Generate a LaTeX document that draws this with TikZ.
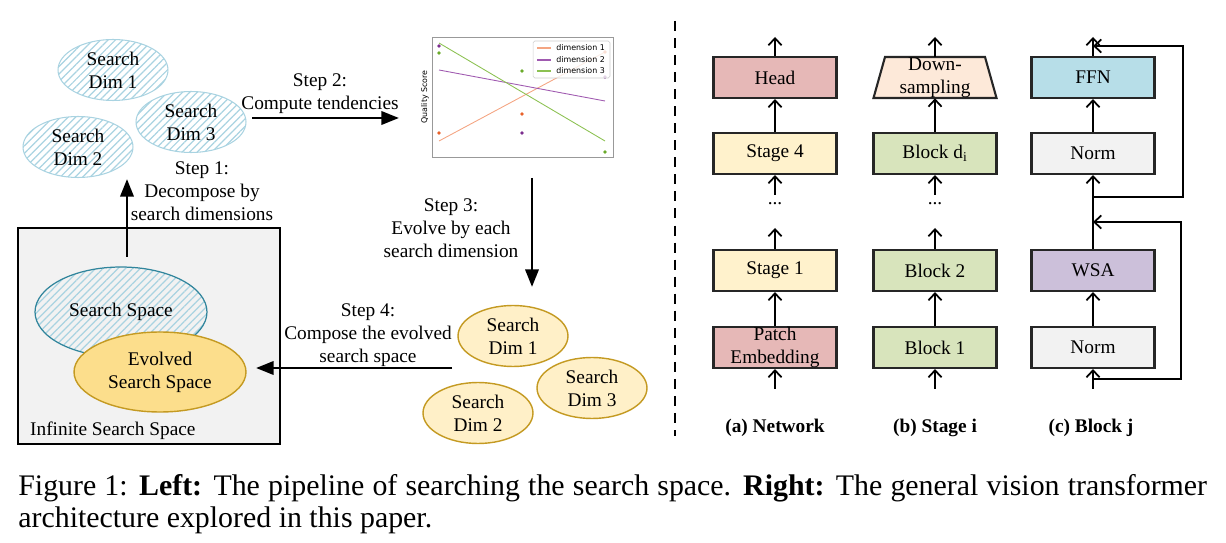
\documentclass[tikz,border=0pt]{standalone}
\usepackage{fontspec}
\setmainfont{Liberation Serif}
\newfontfamily\plotfont{DejaVu Sans}
\usepackage{tikz}
\usetikzlibrary{
  arrows.meta,        % Triangle and barb tips
  shapes.geometric,   % ellipse
  patterns.meta       % hatched search dimensions
}

\definecolor{hatchblue}{HTML}{A9D3E1}
\definecolor{tealline}{HTML}{31859C}
\definecolor{goldline}{HTML}{C49A22}
\definecolor{paleyellow}{HTML}{FFF0C8}
\definecolor{evolvedfill}{HTML}{FCDE8C}
\definecolor{spacegray}{HTML}{F2F2F2}
\definecolor{headred}{HTML}{E6B8B7}
\definecolor{stageyellow}{HTML}{FFF2CC}
\definecolor{blockgreen}{HTML}{D8E4BC}
\definecolor{downpeach}{HTML}{FDE9D9}
\definecolor{ffnblue}{HTML}{B7DEE8}
\definecolor{wsapurple}{HTML}{CCC0DA}
\definecolor{dimone}{HTML}{F4A582}
\definecolor{dimonedot}{HTML}{E8622A}
\definecolor{dimtwo}{HTML}{A05AB0}
\definecolor{dimtwodot}{HTML}{7B2D8E}
\definecolor{dimthree}{HTML}{8CC152}
\definecolor{dimthreedot}{HTML}{6AAA2A}

\tikzset{
  dimhatch/.style={ellipse, draw=hatchblue, line width=0.6pt,
    pattern={Lines[angle=45,distance=3pt,line width=0.7pt]}, pattern color=hatchblue,
    minimum width=2.2cm, minimum height=1.22cm, inner sep=0pt, align=center},
  dimgold/.style={ellipse, draw=goldline, fill=paleyellow, line width=0.8pt,
    minimum width=2.2cm, minimum height=1.22cm, inner sep=0pt, align=center},
  bigarrow/.style={line width=1.6pt, -{Triangle[length=10pt,width=7.5pt]}},
  netbox/.style={draw=black!85, line width=1.2pt, minimum width=2.46cm,
    minimum height=0.82cm, inner sep=0pt},
  flow/.style={line width=1pt, -{Straight Barb[length=4pt,width=7.5pt]}},
  plottext/.style={font=\plotfont\fontsize{4.5}{5}\selectfont}
}

\begin{document}
\begin{tikzpicture}[x=0.02cm, y=-0.02cm, font=\fontsize{11}{13.2}\selectfont]
  \useasboundingbox (0,0) rectangle (1226,543);

  % left: search pipeline
  \node[draw=black, line width=0.6pt, fill=spacegray, minimum width=5.24cm,
    minimum height=4.32cm, inner sep=0pt] (infinite) at (149,336) {};
  \node[anchor=west] (infinitetext) at (24,431) {Infinite Search Space};
  \node[ellipse, draw=tealline, line width=0.7pt,
    pattern={Lines[angle=45,distance=3pt,line width=0.7pt]}, pattern color=hatchblue,
    minimum width=3.44cm, minimum height=1.8cm, inner sep=0pt] (space) at (121,312) {};
  \node at (121,312) {Search Space};
  \node[ellipse, draw=goldline, fill=evolvedfill, line width=0.8pt, align=center,
    minimum width=3.44cm, minimum height=1.6cm, inner sep=0pt] (evolved) at (160,372)
    {Evolved\\Search Space};

  \node[dimhatch] (hdimone) at (113,70) {Search\\Dim 1};
  \node[dimhatch] (hdimtwo) at (78,147) {Search\\Dim 2};
  \node[dimhatch] (hdimthree) at (191,122) {Search\\Dim 3};

  \coordinate (stepone) at (127,257);
  \coordinate (steponeend) at (127,179);
  \draw[bigarrow] (stepone) -- (steponeend);
  \node[align=center] (steponetext) at (202,191) {Step 1:\\Decompose by\\search dimensions};

  \coordinate (steptwo) at (252,118);
  \coordinate (steptwoend) at (399,118);
  \draw[bigarrow] (steptwo) -- (steptwoend);
  \node[align=center] (steptwotext) at (320,94) {Step 2:\\Compute tendencies};

  % tendency plot
  \node[draw=gray!80, line width=0.5pt, minimum width=3.62cm, minimum height=2.4cm,
    inner sep=0pt] (plot) at (522.5,97) {};
  \node[plottext, rotate=90] (ylabel) at (425,97) {Quality Score};
  \draw[dimone, line width=0.5pt] (439,141) -- (605,52);
  \draw[dimtwo, line width=0.5pt] (439,70) -- (605,101);
  \draw[dimthree, line width=0.5pt] (439,43) -- (605,141);
  \fill[dimonedot] (439,133) circle (1.1pt) (522,114) circle (1.1pt) (605,52) circle (1.1pt);
  \fill[dimtwodot] (439,46) circle (1.1pt) (522,133) circle (1.1pt) (605,77) circle (1.1pt);
  \fill[dimthreedot] (439,53) circle (1.1pt) (522,71) circle (1.1pt) (605,152) circle (1.1pt);
  \node[draw=gray!40, fill=white, fill opacity=0.8, text opacity=1, rounded corners=1pt,
    line width=0.3pt, minimum width=1.54cm, minimum height=0.74cm, inner sep=0pt] (legend) at (571.5,59.5) {};
  \draw[dimone, line width=0.6pt] (537,48) -- (551,48);
  \draw[dimtwo, line width=0.6pt] (537,60) -- (551,60);
  \draw[dimthree, line width=0.6pt] (537,71) -- (551,71);
  \node[plottext, anchor=west, inner sep=0pt] (legone) at (556,48) {dimension 1};
  \node[plottext, anchor=west, inner sep=0pt] (legtwo) at (556,60) {dimension 2};
  \node[plottext, anchor=west, inner sep=0pt] (legthree) at (556,71) {dimension 3};

  \coordinate (stepthree) at (532,178);
  \coordinate (stepthreeend) at (532,287);
  \draw[bigarrow] (stepthree) -- (stepthreeend);
  \node[align=center] (stepthreetext) at (451,228) {Step 3:\\Evolve by each\\search dimension};

  \node[dimgold] (gdimone) at (513,336) {Search\\Dim 1};
  \node[dimgold] (gdimtwo) at (478,413) {Search\\Dim 2};
  \node[dimgold] (gdimthree) at (592,388) {Search\\Dim 3};

  \coordinate (stepfour) at (452,368);
  \coordinate (stepfourend) at (256,368);
  \draw[bigarrow] (stepfour) -- (stepfourend);
  \node[align=center] (stepfourtext) at (368,335) {Step 4:\\Compose the evolved\\search space};

  \draw[line width=1.2pt, dash pattern=on 5.7pt off 4pt] (675,21) -- (675,436);

  % right: network / stage / block
  \node[netbox, fill=headred] (head) at (775,77.5) {Head};
  \node[netbox, fill=stageyellow] (stagefour) at (775,153.5) {Stage 4};
  \node (adots) at (775,204) {...};
  \node[netbox, fill=stageyellow] (stageone) at (775,270.5) {Stage 1};
  \node[netbox, fill=headred] (patch) at (775,347.5) {};
  \node[align=center] at (patch) {Patch\\Embedding};

  \draw[draw=black!85, line width=1.2pt, fill=downpeach, line join=miter]
    (873.5,98) -- (885,57) -- (985,57) -- (996.5,98) -- cycle;
  \node[minimum width=2.46cm, minimum height=0.82cm, inner sep=0pt] (down) at (935,77.5) {};
  \node[align=center] at (down) {Down-\\sampling};
  \node[netbox, fill=blockgreen] (blockd) at (935,153.5) {Block d\textsubscript{i}};
  \node (bdots) at (935,204) {...};
  \node[netbox, fill=blockgreen] (blocktwo) at (935,270.5) {Block 2};
  \node[netbox, fill=blockgreen] (blockone) at (935,347.5) {Block 1};

  \node[netbox, fill=ffnblue] (ffn) at (1093,77.5) {FFN};
  \node[netbox, fill=spacegray] (normup) at (1093,153.5) {Norm};
  \node[netbox, fill=wsapurple] (wsa) at (1093,270.5) {WSA};
  \node[netbox, fill=spacegray] (normlow) at (1093,347.5) {Norm};

  \coordinate (ain) at (775,389);
  \coordinate (aout) at (775,37);
  \coordinate (aup) at (775,228);
  \coordinate (alow) at (775,195);
  \draw[flow] (ain) -- (patch.south);
  \draw[flow] (patch.north) -- (stageone.south);
  \draw[flow] (stageone.north) -- (aup);
  \draw[flow] (alow) -- (stagefour.south);
  \draw[flow] (stagefour.north) -- (head.south);
  \draw[flow] (head.north) -- (aout);

  \coordinate (bin) at (935,389);
  \coordinate (bout) at (935,37);
  \coordinate (bup) at (935,228);
  \coordinate (blow) at (935,195);
  \draw[flow] (bin) -- (blockone.south);
  \draw[flow] (blockone.north) -- (blocktwo.south);
  \draw[flow] (blocktwo.north) -- (bup);
  \draw[flow] (blow) -- (blockd.south);
  \draw[flow] (blockd.north) -- (down.south);
  \draw[flow] (down.north) -- (bout);

  \coordinate (cin) at (1093,389);
  \coordinate (cout) at (1093,37);
  \coordinate (skipup) at (1093,197);
  \coordinate (skiplow) at (1093,379);
  \draw[flow] (cin) -- (normlow.south);
  \draw[flow] (normlow.north) -- (wsa.south);
  \draw[flow] (wsa.north) -- (normup.south);
  \draw[flow] (normup.north) -- (ffn.south);
  \draw[flow] (ffn.north) -- (cout);
  \draw[flow] (skipup) -- ++(90,0) -- ++(0,-151) -- ++(-90,0);
  \draw[flow] (skiplow) -- ++(88,0) -- ++(0,-157) -- ++(-88,0);

  \node[font=\fontsize{11}{13.2}\selectfont\bfseries] (capa) at (775,428) {(a) Network};
  \node[font=\fontsize{11}{13.2}\selectfont\bfseries] (capb) at (935,428) {(b) Stage i};
  \node[font=\fontsize{11}{13.2}\selectfont\bfseries] (capc) at (1091,428) {(c) Block j};

  % caption
  \node[anchor=base west, inner sep=0pt, font=\fontsize{17}{20}\selectfont] (capone) at (18,495)
    {\makebox[23.78cm][s]{Figure 1: \textbf{Left:} The pipeline of searching the search space. \textbf{Right:} The general vision transformer}};
  \node[anchor=base west, inner sep=0pt, font=\fontsize{17}{20}\selectfont] (captwo) at (18,527)
    {architecture explored in this paper.};
\end{tikzpicture}
\end{document}
